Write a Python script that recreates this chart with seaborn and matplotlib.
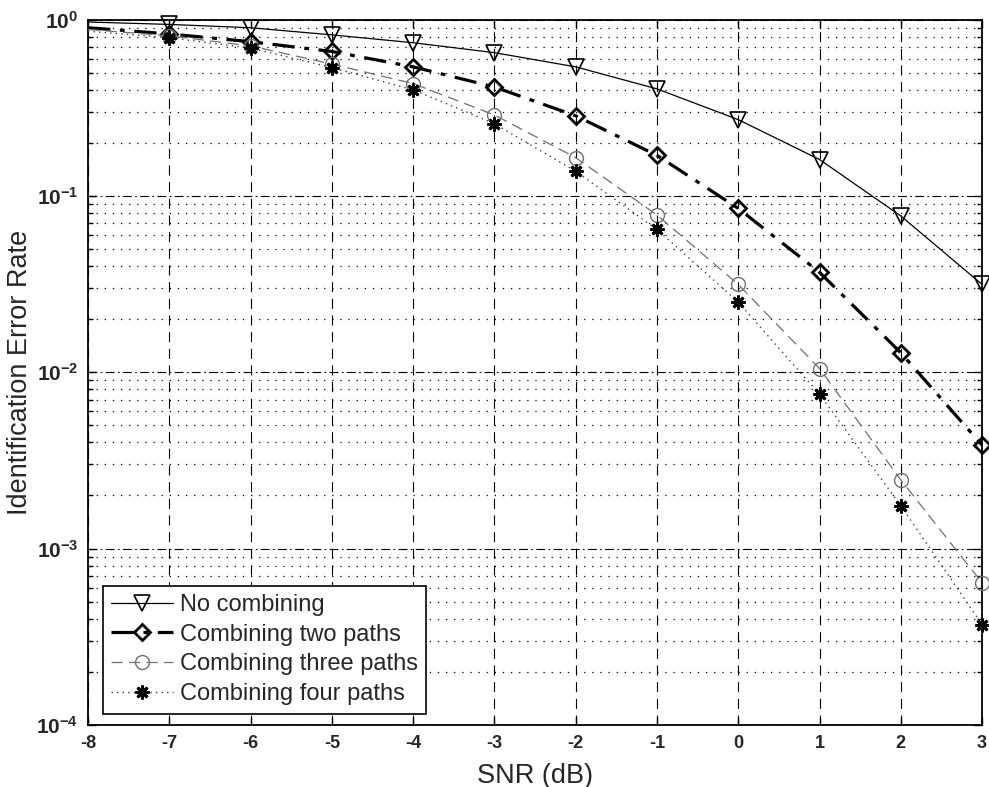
import numpy as np
import pandas as pd
import matplotlib
matplotlib.use("Agg")
import matplotlib.pyplot as plt
from matplotlib.ticker import LogLocator, FixedLocator, NullFormatter, FuncFormatter
import seaborn as sns

# SNR sweep (dB)
snr_db = [-8, -7, -6, -5, -4, -3, -2, -1, 0, 1, 2, 3]

# Identification error rate per combining scheme
no_combining = [0.97, 0.94, 0.90, 0.82, 0.74, 0.65, 0.54, 0.405, 0.271, 0.161, 0.077, 0.0315]
two_paths = [0.90, 0.83, 0.75, 0.66, 0.54, 0.415, 0.285, 0.170, 0.085, 0.0369, 0.0129, 0.00386]
three_paths = [0.88, 0.81, 0.71, 0.56, 0.434, 0.288, 0.165, 0.078, 0.0315, 0.0105, 0.00245, 0.00064]
four_paths = [0.86, 0.79, 0.69, 0.535, 0.40, 0.257, 0.138, 0.0646, 0.025, 0.0075, 0.00175, 0.00037]

series_names = ["No combining", "Combining two paths",
                "Combining three paths", "Combining four paths"]
series_values = [no_combining, two_paths, three_paths, four_paths]

df = pd.DataFrame({
    "SNR": snr_db * len(series_names),
    "rate": sum(series_values, []),
    "scheme": [n for n in series_names for _ in snr_db],
})

sns.set_style("ticks")
plt.rcParams["font.family"] = ["Liberation Sans", "DejaVu Sans"]
plt.rcParams["axes.unicode_minus"] = False
plt.rcParams["mathtext.fontset"] = "custom"
plt.rcParams["mathtext.rm"] = "Liberation Sans:bold"
plt.rcParams["mathtext.it"] = "Liberation Sans:bold"
plt.rcParams["mathtext.bf"] = "Liberation Sans:bold"
plt.rcParams["mathtext.default"] = "rm"

fig = plt.figure(figsize=(9.89, 7.87), dpi=100)
ax = fig.add_axes([0.089, 0.079, 0.904, 0.896])

# markers start from the second SNR point; the first one sits on the left edge
mark_idx = list(range(1, len(snr_db)))

styles = {
    "No combining": dict(color="black", linestyle="-", linewidth=0.9,
                         marker="v", markersize=12, markerfacecolor="none",
                         markeredgecolor="black", markeredgewidth=1.2),
    "Combining two paths": dict(color="black", linestyle=(0, (7, 3, 1.5, 3)), linewidth=2.3,
                                marker="D", markersize=8, markerfacecolor="none",
                                markeredgecolor="black", markeredgewidth=2.0),
    "Combining three paths": dict(color="#707070", linestyle=(0, (9, 5)), linewidth=0.9,
                                  marker="o", markersize=10, markerfacecolor="none",
                                  markeredgecolor="#707070", markeredgewidth=1.0),
    "Combining four paths": dict(color="#404040", linestyle=(0, (1, 3)), linewidth=1.0,
                                 marker=(8, 2, 0), markersize=10, markerfacecolor="black",
                                 markeredgecolor="black", markeredgewidth=2.0),
}

for name in series_names:
    sub = df[df["scheme"] == name]
    sns.lineplot(data=sub, x="SNR", y="rate", ax=ax, label=name,
                 estimator=None, sort=False, clip_on=False, zorder=5,
                 markevery=mark_idx, **styles[name])

ax.set_yscale("log")
ax.set_xlim(-8, 3)
ax.set_ylim(1e-4, 1)

ax.xaxis.set_major_locator(FixedLocator(snr_db))
ax.xaxis.set_major_formatter(FuncFormatter(lambda v, p: f"{int(round(v))}"))
ax.yaxis.set_major_locator(LogLocator(base=10, numticks=10))
ax.yaxis.set_major_formatter(
    FuncFormatter(lambda v, p: r"$10^{%d}$" % int(round(np.log10(v)))))
ax.yaxis.set_minor_locator(LogLocator(base=10, subs=np.arange(2, 10), numticks=20))
ax.yaxis.set_minor_formatter(NullFormatter())

# grid: dashed verticals, dash-dot decades, dotted minor decades
ax.grid(False)
ax.xaxis.grid(True, which="major", color="black", linestyle=(0, (9, 6)), linewidth=0.8)
ax.yaxis.grid(True, which="major", color="black", linestyle=(0, (8, 3, 1.5, 3)), linewidth=0.8)
ax.yaxis.grid(True, which="minor", color="black", linestyle=(0, (1, 5.5)), linewidth=0.9)
ax.set_axisbelow(True)

ax.tick_params(which="both", direction="in", top=True, right=True,
               color="black", width=1.0)
ax.tick_params(axis="x", which="major", length=6, labelsize=13, pad=7)
ax.tick_params(axis="y", which="major", length=6, labelsize=15, pad=7)
ax.tick_params(which="minor", length=3.5)
for lab in ax.get_xticklabels():
    lab.set_fontweight("bold")

for sp in ax.spines.values():
    sp.set_color("black")
    sp.set_linewidth(1.3)

ax.set_xlabel("SNR (dB)", fontsize=19.5, labelpad=8)
ax.set_ylabel("Identification Error Rate", fontsize=19.5)
ax.yaxis.set_label_coords(-0.062, 0.5)

leg = ax.legend(loc="lower left", bbox_to_anchor=(0.017, 0.016), fontsize=17,
                frameon=True, fancybox=False, edgecolor="black", framealpha=1,
                handlelength=2.6, handletextpad=0.3, labelspacing=0.33,
                borderpad=0.35, borderaxespad=0.0)
leg.get_frame().set_linewidth(1.2)
for t in leg.get_texts():
    t.set_fontweight("normal")

fig.savefig("out.png", dpi=100)
